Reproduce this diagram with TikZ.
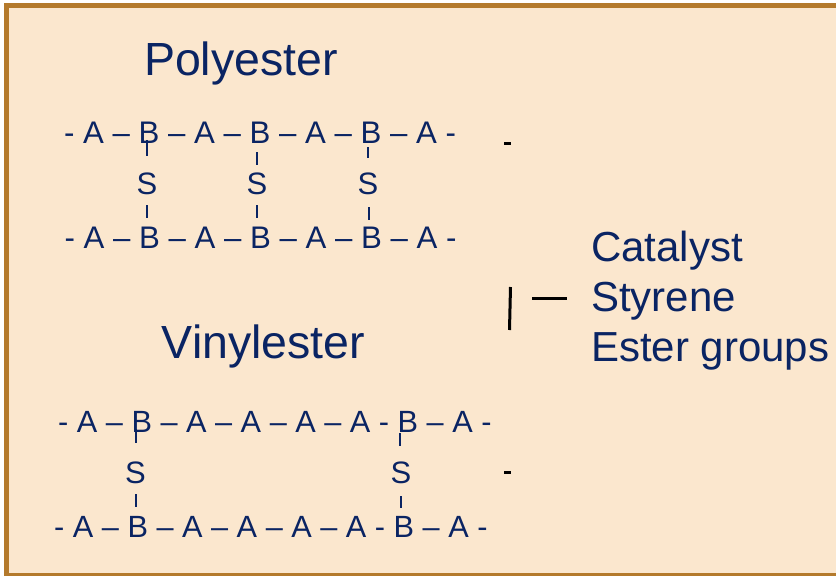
\documentclass[tikz,border=0pt]{standalone}
\usepackage{fontspec}
\setmainfont{Liberation Sans}
\definecolor{bgbeige}{HTML}{FBE7CE}
\definecolor{framebrown}{HTML}{B47A2C}
\definecolor{navy}{HTML}{0A2463}
\tikzset{
  title/.style={text=navy, inner sep=0pt, anchor=base, font=\fontsize{46.5}{50}\selectfont},
  chain/.style={text=navy, inner sep=0pt, anchor=base west, font=\fontsize{#1}{34}\selectfont},
  chain/.default=31,
  sidegroup/.style={text=navy, inner sep=0pt, anchor=base west, font=\fontsize{42}{50}\selectfont},
  snode/.style={text=navy, inner sep=0pt, anchor=base, font=\fontsize{31}{34}\selectfont},
  tick/.style={draw=navy, line width=1.3pt},
  blackmark/.style={draw=black, line width=3pt},
}
\begin{document}
\begin{tikzpicture}[x=1pt, y=-1pt]
\useasboundingbox (0,0) rectangle (836,576);
\clip (0,0) rectangle (836,576);
\fill[white] (0,0) rectangle (836,576);
\draw[framebrown, line width=5pt, fill=bgbeige] (6.5,5.5) rectangle (850,575.5);

% Titles
\node[title] (poly) at (241,75) {Polyester};
\node[title] (vinyl) at (263.5,358) {Vinylester};

% Polyester chains
\node[chain=31.2] (p1) at (64,143) {- A – B – A – B – A – B – A -};
\node[chain=31.2] (p2) at (64.5,248) {- A – B – A – B – A – B – A -};
\node[snode] (ps1) at (147,194) {S};
\node[snode] (ps2) at (257,194) {S};
\node[snode] (ps3) at (368,194) {S};
\coordinate (pt1a) at (147,140); \coordinate (pt1b) at (147,156);
\coordinate (pt2a) at (257,152); \coordinate (pt2b) at (257,165);
\coordinate (pt3a) at (368,147); \coordinate (pt3b) at (368,158);
\coordinate (pb1a) at (147,205); \coordinate (pb1b) at (147,218);
\coordinate (pb2a) at (257,205); \coordinate (pb2b) at (257,218);
\coordinate (pb3a) at (369,207); \coordinate (pb3b) at (369,220);
\draw[tick] (pt1a) -- (pt1b);
\draw[tick] (pt2a) -- (pt2b);
\draw[tick] (pt3a) -- (pt3b);
\draw[tick] (pb1a) -- (pb1b);
\draw[tick] (pb2a) -- (pb2b);
\draw[tick] (pb3a) -- (pb3b);

% Vinylester chains
\node[chain=30.7] (v1) at (58,432) {- A – B – A – A – A – A - B – A -};
\node[chain=30.7] (v2) at (54,537) {- A – B – A – A – A – A - B – A -};
\node[snode] (vs1) at (135.5,483) {S};
\node[snode] (vs2) at (401,483) {S};
\coordinate (vt1a) at (136,429); \coordinate (vt1b) at (136,443);
\coordinate (vt2a) at (400,433); \coordinate (vt2b) at (400,446);
\coordinate (vb1a) at (136,494); \coordinate (vb1b) at (136,507);
\coordinate (vb2a) at (401,496); \coordinate (vb2b) at (401,508);
\draw[tick] (vt1a) -- (vt1b);
\draw[tick] (vt2a) -- (vt2b);
\draw[tick] (vb1a) -- (vb1b);
\draw[tick] (vb2a) -- (vb2b);

% Right side list
\node[sidegroup] (cat) at (591,261) {Catalyst};
\node[sidegroup] (sty) at (591,311) {Styrene};
\node[sidegroup] (est) at (591,361) {Ester groups};

% Black marks
\coordinate (barA) at (510.5,287); \coordinate (barB) at (509.5,330);
\draw[blackmark] (barA) -- (barB);
\coordinate (dashA) at (532,298); \coordinate (dashB) at (567,298);
\draw[blackmark] (dashA) -- (dashB);
\coordinate (dot1a) at (504,143); \coordinate (dot1b) at (511,143);
\draw[blackmark] (dot1a) -- (dot1b);
\coordinate (dot2a) at (504,472); \coordinate (dot2b) at (511,472);
\draw[blackmark] (dot2a) -- (dot2b);
\end{tikzpicture}
\end{document}
